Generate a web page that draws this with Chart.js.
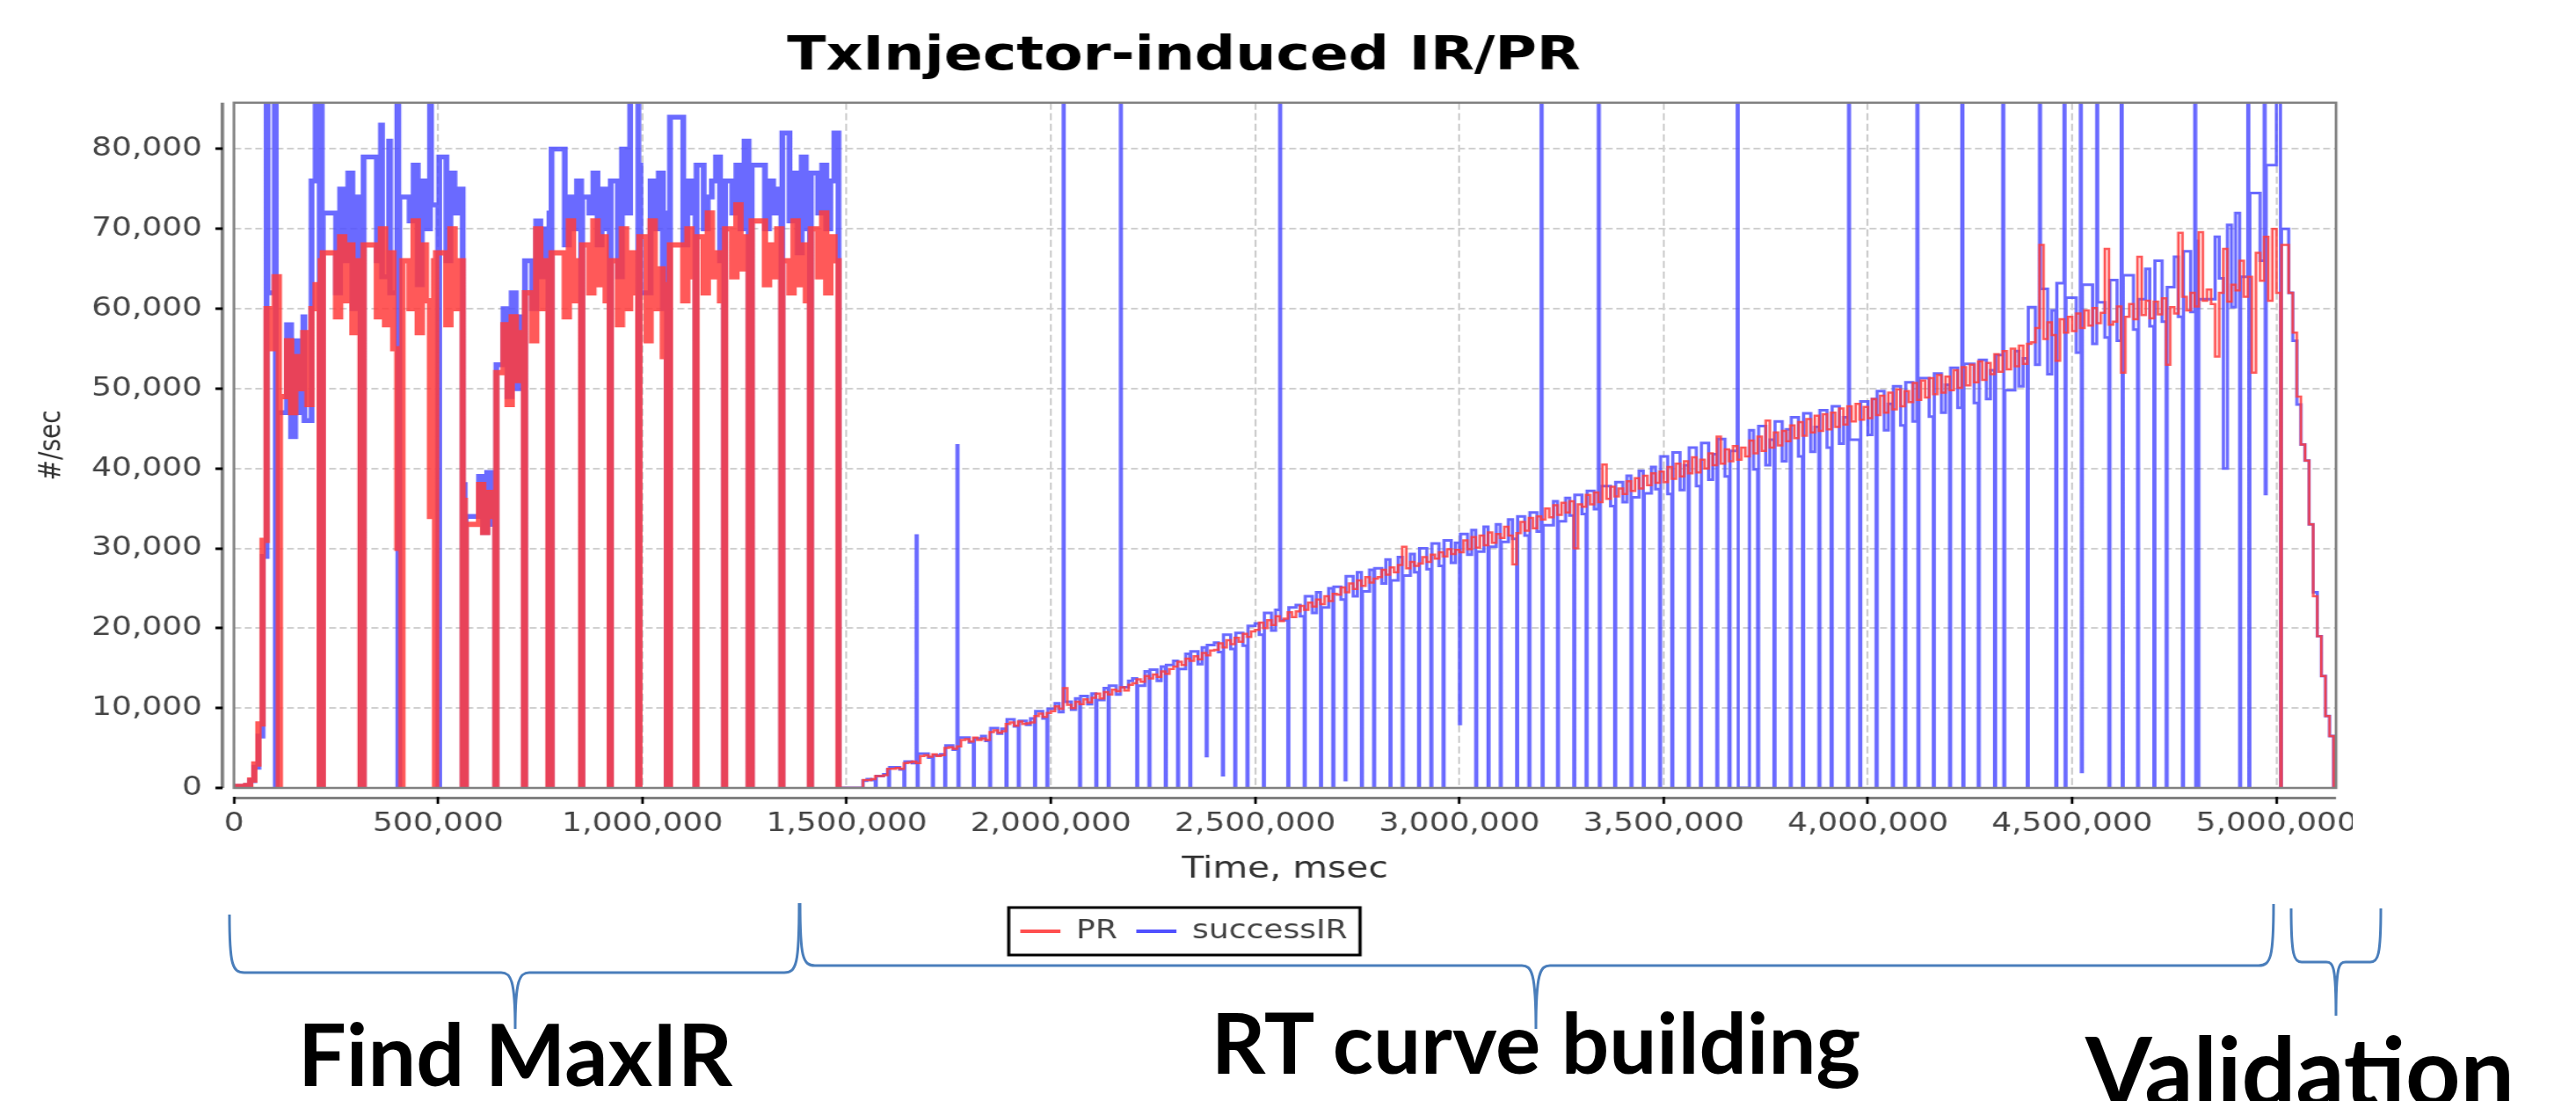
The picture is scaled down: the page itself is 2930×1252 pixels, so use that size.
<!DOCTYPE html>
<html>
<head>
<meta charset="utf-8">
<title>TxInjector-induced IR/PR</title>
<script src="https://cdn.jsdelivr.net/npm/chart.js@4.4.1/dist/chart.umd.min.js"></script>
<style>
  html, body { margin: 0; padding: 0; background: #fff; }
  body { width: 2930px; height: 1252px; overflow: hidden; position: relative; }
  /* the chart picture sits stretched sideways on the slide, so draw it narrow and stretch it */
  #chartBox { position: absolute; left: 0; top: 0; width: 2230px; height: 1110px; transform: scaleX(1.2); transform-origin: 0 0; }
  #lineChart { width: 2230px; height: 1110px; }
  #notes { position: absolute; left: 0; top: 0; pointer-events: none; }
  #notes text { font-family: Lato, "Open Sans", sans-serif; font-weight: bold; fill: #000; }
</style>
</head>
<body>
<div id="chartBox"><canvas id="lineChart" width="2230" height="1110"></canvas></div>

<svg id="notes" width="2930" height="1252" viewBox="0 0 2930 1252">
  <g fill="none" stroke="#4a7ebb" stroke-width="3">
    <path d="M261,1040 C261,1096 264,1106 278,1106 L570,1106 C581,1106 586,1114 586,1170 C586,1114 591,1106 602,1106 L892,1106 C906,1106 909,1096 909,1027"/>
    <path d="M910,1027 C910,1088 913,1098 927,1098 L1731,1098 C1742,1098 1747,1106 1747,1170 C1747,1106 1752,1098 1763,1098 L2569,1098 C2583,1098 2586,1088 2586,1028"/>
    <path d="M2606,1033 C2606,1086 2609,1094 2618,1094 L2646,1094 C2654,1094 2657,1100 2657,1155 C2657,1100 2660,1094 2668,1094 L2696,1094 C2705,1094 2708,1086 2708,1033"/>
  </g>
  <text x="586" y="1235" font-size="97" text-anchor="middle">Find MaxIR</text>
  <text x="1747" y="1221" font-size="96" text-anchor="middle">RT curve building</text>
  <text x="2616" y="1258" font-size="109" text-anchor="middle">Validation</text>
</svg>

<script>
// one reading every 10 s (#/sec)
const SAMPLE_MS = 10000;
const BLIP_MS = 2500;         // a lone outage or burst only lasted a moment
const FIND_MAX_END = 1480000; // end of the "Find MaxIR" part

// PR, rows of 10 readings (100,000 msec per row)
const prValues = [
  200, 200, 200, 300, 1000, 3000, 8000, 31000, 60000, 55000,
  64000, 0, 49000, 56000, 47000, 54000, 50000, 57000, 48000, 60000,
  63000, 0, 66000, 0, 67000, 59000, 69000, 61000, 68000, 57000,
  66000, 0, 64000, 0, 68000, 59000, 70000, 58000, 67000, 55000,
  30000, 0, 66000, 60000, 71000, 57000, 68000, 61000, 34000, 66000,
  0, 67000, 58000, 70000, 60000, 66000, 0, 36000, 0, 33000,
  38000, 32000, 37000, 34000, 0, 52000, 58000, 48000, 59000, 51000,
  57000, 0, 62000, 56000, 70000, 60000, 66000, 0, 64000, 0,
  67000, 59000, 71000, 61000, 66000, 0, 68000, 62000, 71000, 63000,
  69000, 61000, 0, 66000, 58000, 70000, 60000, 67000, 62000, 0,
  69000, 56000, 71000, 60000, 65000, 54000, 0, 63000, 0, 68000,
  61000, 70000, 64000, 0, 69000, 62000, 72000, 64000, 67000, 61000,
  0, 70000, 64000, 73000, 65000, 69000, 0, 67000, 0, 71000,
  63000, 68000, 64000, 70000, 0, 66000, 62000, 71000, 63000, 68000,
  61000, 0, 70000, 64000, 72000, 62000, 69000, 66000, 0, 0,
  0, 0, 0, 0, 1000, 1000, 1100, 1500, 1500, 1600,
  2400, 2400, 2500, 2400, 3100, 3200, 3300, 3100, 4000, 4100,
  3900, 4200, 4000, 4100, 5000, 5100, 4900, 5200, 6000, 6100,
  5800, 6300, 6000, 6200, 6000, 7000, 7200, 6900, 7100, 8000,
  8200, 7800, 8300, 8000, 8100, 8200, 9000, 9300, 8900, 9400,
  9600, 10200, 9900, 12500, 10400, 10000, 10800, 10500, 11100, 10700,
  11300, 11800, 11200, 12000, 11700, 12300, 12100, 12600, 12200, 12900,
  13100, 13600, 13300, 14000, 13700, 14200, 13900, 14600, 14300, 14900,
  15200, 15800, 15400, 16200, 15900, 16500, 16100, 16900, 16600, 17200,
  17300, 18100, 17600, 18500, 18000, 18800, 18300, 19300, 18900, 19600,
  19800, 20700, 20000, 21000, 20400, 21500, 20900, 21200, 22000, 21400,
  22100, 22800, 22300, 23200, 22700, 23600, 23000, 24000, 23400, 24300,
  24200, 25100, 24500, 25600, 24900, 26000, 25300, 26400, 25700, 26200,
  26400, 27300, 26700, 27600, 27000, 27900, 30200, 27500, 28300, 27800,
  28100, 28900, 28300, 29200, 28700, 29500, 29000, 29900, 29300, 29800,
  29500, 31000, 29900, 31400, 30100, 31600, 30400, 32000, 30700, 31800,
  31300, 32700, 31600, 28000, 31900, 33300, 32200, 33800, 32500, 34000,
  33600, 35000, 33900, 35400, 34200, 35700, 34500, 35900, 30000, 35500,
  35200, 36700, 35500, 37000, 35800, 40500, 36200, 37700, 36500, 37500,
  36800, 38400, 37200, 38800, 37500, 39100, 37900, 39400, 38200, 39600,
  38300, 40200, 38700, 40600, 39000, 40900, 39400, 41400, 39500, 41100,
  40000, 41900, 40400, 44000, 40600, 42400, 40900, 42800, 41100, 42600,
  41500, 43500, 41900, 44000, 42200, 46000, 42600, 44500, 42900, 44700,
  43400, 45400, 43800, 45800, 44100, 46200, 44500, 46600, 44700, 46800,
  44900, 47000, 45200, 47500, 45500, 47800, 45900, 48100, 46100, 47700,
  46300, 48700, 46700, 49100, 47000, 49500, 47400, 49900, 47800, 49700,
  48300, 50700, 48600, 51000, 48900, 51300, 49300, 51700, 49500, 51500,
  49800, 52300, 50100, 52700, 50400, 53000, 50800, 53400, 51100, 53200,
  51800, 54300, 52100, 54700, 52400, 55000, 52800, 55400, 53100, 55600,
  55800, 57600, 68000, 56200, 58300, 56700, 53500, 58700, 57000, 59000,
  57200, 59400, 57600, 59800, 57900, 60100, 58200, 59500, 67500, 58000,
  58400, 60300, 52000, 59000, 60600, 58700, 66500, 59200, 61000, 58800,
  60900, 59300, 61300, 53000, 60200, 59400, 69500, 61500, 59800, 62000,
  60300, 69600, 61000, 62400, 60600, 54000, 62000, 67500, 60900, 63000,
  62300, 66000, 61500, 64000, 52000, 67000, 63500, 69000, 61000, 70000,
  62000, 0, 68000, 62000, 57000, 49000, 43000, 41000, 33000, 24000,
  19000, 14000, 9000, 6500, 0
];

// successIR, same readings
const irValues = [
  200, 200, 200, 300, 900, 2600, 6500, 29000, 92000, 62000,
  92000, 0, 47000, 58000, 44000, 56000, 47000, 59000, 46000, 76000,
  90000, 0, 88000, 0, 72000, 62000, 75000, 66000, 77000, 60000,
  74000, 0, 73000, 0, 79000, 66000, 83000, 64000, 81000, 62000,
  92000, 0, 74000, 71000, 78000, 63000, 76000, 70000, 92000, 73000,
  0, 79000, 66000, 77000, 72000, 75000, 0, 38000, 0, 34000,
  39000, 32000, 39500, 33000, 0, 53000, 60000, 49000, 62000, 50000,
  59000, 0, 66000, 60000, 71000, 64000, 70000, 0, 72000, 0,
  80000, 68000, 74000, 70000, 76000, 0, 74000, 72000, 77000, 68000,
  75000, 70000, 0, 76000, 64000, 80000, 72000, 92000, 92000, 0,
  78000, 62000, 76000, 70000, 77000, 60000, 0, 72000, 0, 84000,
  68000, 76000, 72000, 0, 78000, 70000, 74000, 76000, 79000, 66000,
  0, 76000, 72000, 78000, 70000, 81000, 0, 75000, 0, 78000,
  70000, 76000, 72000, 75000, 0, 82000, 71000, 77000, 67000, 79000,
  70000, 0, 77000, 72000, 78000, 70000, 76000, 82000, 0, 0,
  0, 0, 0, 0, 900, 1100, 1000, 0, 1500, 1700,
  2300, 0, 2600, 2300, 0, 3300, 3100, 31600, 0, 4300,
  3800, 0, 4100, 4200, 0, 5300, 4800, 42900, 0, 6300,
  5700, 0, 6200, 6500, 5900, 0, 7500, 6800, 7400, 0,
  8600, 7700, 0, 8400, 7900, 8700, 0, 9600, 8700, 0,
  9900, 10600, 9500, 95000, 10800, 9800, 11200, 0, 11500, 10500,
  11800, 0, 11000, 12500, 0, 12800, 11700, 95000, 12600, 13400,
  13700, 0, 12800, 14600, 0, 14800, 13400, 15200, 0, 15400,
  15900, 0, 14900, 16800, 0, 17100, 15500, 17600, 4000, 17900,
  18200, 17000, 1600, 19200, 17400, 0, 19400, 17800, 0, 20300,
  20600, 19200, 0, 21900, 19700, 22300, 95000, 21000, 0, 22600,
  22900, 21500, 0, 24000, 21900, 24500, 0, 22600, 25000, 0,
  25200, 23600, 1000, 26500, 24000, 27000, 0, 24600, 27300, 0,
  27500, 25600, 28600, 0, 26000, 28900, 0, 26600, 29300, 27000,
  0, 30000, 27400, 0, 30600, 27800, 0, 31000, 28200, 30700,
  8000, 31800, 29200, 32300, 0, 29600, 32700, 0, 30200, 33000,
  0, 30800, 33600, 31200, 0, 34000, 31600, 0, 34500, 32100,
  95000, 0, 32900, 35900, 0, 33400, 36300, 34100, 0, 36700,
  34300, 0, 37200, 34900, 95000, 0, 37800, 35300, 0, 38300,
  35800, 39100, 0, 36400, 39700, 0, 36900, 40200, 37400, 0,
  41500, 36800, 0, 42000, 37300, 40400, 0, 42600, 37800, 0,
  43200, 38600, 41800, 0, 43700, 39000, 0, 42200, 95000, 0,
  0, 44800, 39900, 0, 45300, 40400, 43600, 0, 45900, 40900,
  44900, 0, 46400, 41500, 0, 46900, 42100, 45200, 0, 47300,
  42600, 0, 47800, 43100, 46400, 0, 95000, 43600, 0, 48400,
  44200, 48700, 0, 49700, 44800, 48100, 0, 50300, 45400, 0,
  50800, 45900, 95000, 0, 51300, 46500, 0, 51900, 47000, 50500,
  0, 52600, 47600, 95000, 0, 53100, 48200, 0, 53600, 48700,
  52300, 0, 54200, 95000, 0, 49800, 54700, 50300, 53800, 0,
  60200, 53000, 95000, 62500, 51800, 59800, 0, 63200, 95000, 0,
  61400, 54500, 95000, 2000, 63000, 55600, 95000, 60800, 56400, 0,
  63600, 56000, 95000, 0, 64200, 57400, 0, 61200, 65000, 57800,
  0, 66000, 58400, 0, 62700, 66500, 59000, 0, 67200, 59600,
  95000, 0, 68500, 0, 61200, 69000, 63800, 40000, 70500, 60200,
  72000, 0, 64000, 95000, 0, 74500, 66000, 95000, 36800, 78000,
  95000, 0, 70000, 62000, 56000, 48000, 43000, 41000, 33000, 24500,
  19000, 14000, 9000, 6500, 0
];

const timeMs = prValues.map((v, i) => i * SAMPLE_MS);

const xTicks = [0, 500000, 1000000, 1500000, 2000000, 2500000, 3000000, 3500000, 4000000, 4500000, 5000000];
const yTicks = [0, 10000, 20000, 30000, 40000, 50000, 60000, 70000, 80000];
const xMax = 5146000;
const yMax = 85800;

// a reading far below or above both neighbours is an outage / burst
function isBlip(values, i) {
  const prev = values[i - 1];
  const next = values[i + 1];
  if (prev === undefined || next === undefined) return false;
  const v = values[i];
  return v < 0.5 * Math.min(prev, next) || v > 1.25 * Math.max(prev, next);
}

// each reading holds until the next one starts; blips only hold for BLIP_MS
function toPoints(values) {
  const points = [];
  let start = timeMs[0];
  values.forEach((v, i) => {
    points.push({ x: start, y: v });
    start = isBlip(values, i) ? start + BLIP_MS : timeMs[i + 1];
  });
  return points;
}

// the first part is drawn much denser in the original, so use a heavier line there
function denseWidth(width) {
  return ctx => (ctx.p1.parsed.x <= FIND_MAX_END ? width : undefined);
}

// plot frame, offset axis lines and the box round the legend
const framePlugin = {
  id: 'frame',
  beforeDraw(chart) {
    const { ctx, chartArea: a } = chart;
    ctx.save();
    ctx.strokeStyle = '#808080';
    ctx.lineWidth = 3.3;
    ctx.beginPath();
    ctx.moveTo(a.left - 10.9, a.top);
    ctx.lineTo(a.left - 10.9, a.bottom);
    ctx.stroke();
    ctx.lineWidth = 3;
    ctx.beginPath();
    ctx.moveTo(a.left, a.bottom + 11.5);
    ctx.lineTo(a.right, a.bottom + 11.5);
    ctx.stroke();
    ctx.restore();
  },
  afterDraw(chart) {
    const { ctx, chartArea: a } = chart;
    ctx.save();
    ctx.strokeStyle = '#808080';
    ctx.lineWidth = 2.5;
    ctx.strokeRect(a.left, a.top, a.right - a.left, a.bottom - a.top);

    const boxes = chart.legend.legendHitBoxes;
    const left = Math.min(...boxes.map(b => b.left)) - 11;
    const right = Math.max(...boxes.map(b => b.left + b.width)) + 12;
    const top = boxes[0].top - 12;
    const bottom = boxes[0].top + boxes[0].height + 12;
    ctx.strokeStyle = '#000';
    ctx.lineWidth = 3;
    ctx.strokeRect(left, top, right - left, bottom - top);
    ctx.restore();
  }
};

Chart.defaults.font.family = '"DejaVu Sans", sans-serif';

new Chart(document.getElementById('lineChart'), {
  type: 'line',
  data: {
    datasets: [
      {
        label: 'PR',
        data: toPoints(prValues),
        borderColor: 'rgba(255, 60, 60, 0.85)',
        backgroundColor: 'rgba(255, 60, 60, 0.85)',
        borderWidth: 2.5,
        segment: { borderWidth: denseWidth(6) },
        pointRadius: 0,
        stepped: true,
        fill: false,
      },
      {
        label: 'successIR',
        data: toPoints(irValues),
        borderColor: 'rgba(80, 80, 255, 0.85)',
        backgroundColor: 'rgba(80, 80, 255, 0.85)',
        borderWidth: 3,
        segment: { borderWidth: denseWidth(5.5) },
        pointRadius: 0,
        stepped: true,
        fill: false,
      },
    ],
  },
  options: {
    responsive: false,
    animation: false,
    locale: 'en-US',
    layout: { padding: { left: 30, right: 15.8, top: 0, bottom: 26 } },
    scales: {
      x: {
        type: 'linear',
        min: 0,
        max: xMax,
        afterBuildTicks(scale) {
          scale.ticks = xTicks.map(v => ({ value: v }));
        },
        afterFit(scale) {
          scale.height = 130;
          scale.paddingLeft = 0;
          scale.paddingRight = 0;
        },
        ticks: {
          autoSkip: false,
          maxRotation: 0,
          color: '#444',
          font: { size: 30 },
          padding: 5,
        },
        grid: {
          color: '#d0d0d0',
          lineWidth: 2,
          tickColor: '#000',
          tickWidth: 2.5,
          tickLength: 18,
          tickBorderDash: [0, 10, 8, 100],
        },
        border: { display: false, dash: [8, 4] },
        title: {
          display: true,
          text: 'Time, msec',
          color: '#333',
          font: { size: 34 },
          padding: { top: 0, bottom: 16.6 },
        },
      },
      y: {
        min: 0,
        max: yMax,
        afterBuildTicks(scale) {
          scale.ticks = yTicks.map(v => ({ value: v }));
        },
        afterFit(scale) {
          scale.width = 191.7;
          scale.paddingTop = 0;
          scale.paddingBottom = 0;
        },
        ticks: {
          color: '#444',
          font: { size: 30 },
          padding: 12.5,
        },
        grid: {
          color: '#d0d0d0',
          lineWidth: 2,
          tickColor: '#000',
          tickWidth: 3,
          tickLength: 17.5,
          tickBorderDash: [6.7, 100],
        },
        border: { display: false, dash: [6.5, 3.5] },
        title: {
          display: true,
          text: '#/sec',
          color: '#333',
          font: { size: 28 },
          padding: { top: 3.2, bottom: 0 },
        },
      },
    },
    plugins: {
      title: {
        display: true,
        text: 'TxInjector-induced IR/PR',
        color: '#000',
        font: { size: 54, weight: 'bold' },
        padding: { top: 33, bottom: 19 },
      },
      legend: {
        position: 'bottom',
        labels: {
          usePointStyle: true,
          pointStyle: 'line',
          pointStyleWidth: 38,
          color: '#444',
          font: { size: 30 },
          padding: 18,
          generateLabels(chart) {
            const items = Chart.defaults.plugins.legend.labels.generateLabels(chart);
            const solid = ['#ff4f4f', '#5050ff'];
            items.forEach((it, i) => {
              it.lineWidth = 4;
              it.strokeStyle = solid[i];
            });
            return items;
          },
        },
      },
      tooltip: { enabled: false },
    },
  },
  plugins: [framePlugin],
});
</script>
</body>
</html>
